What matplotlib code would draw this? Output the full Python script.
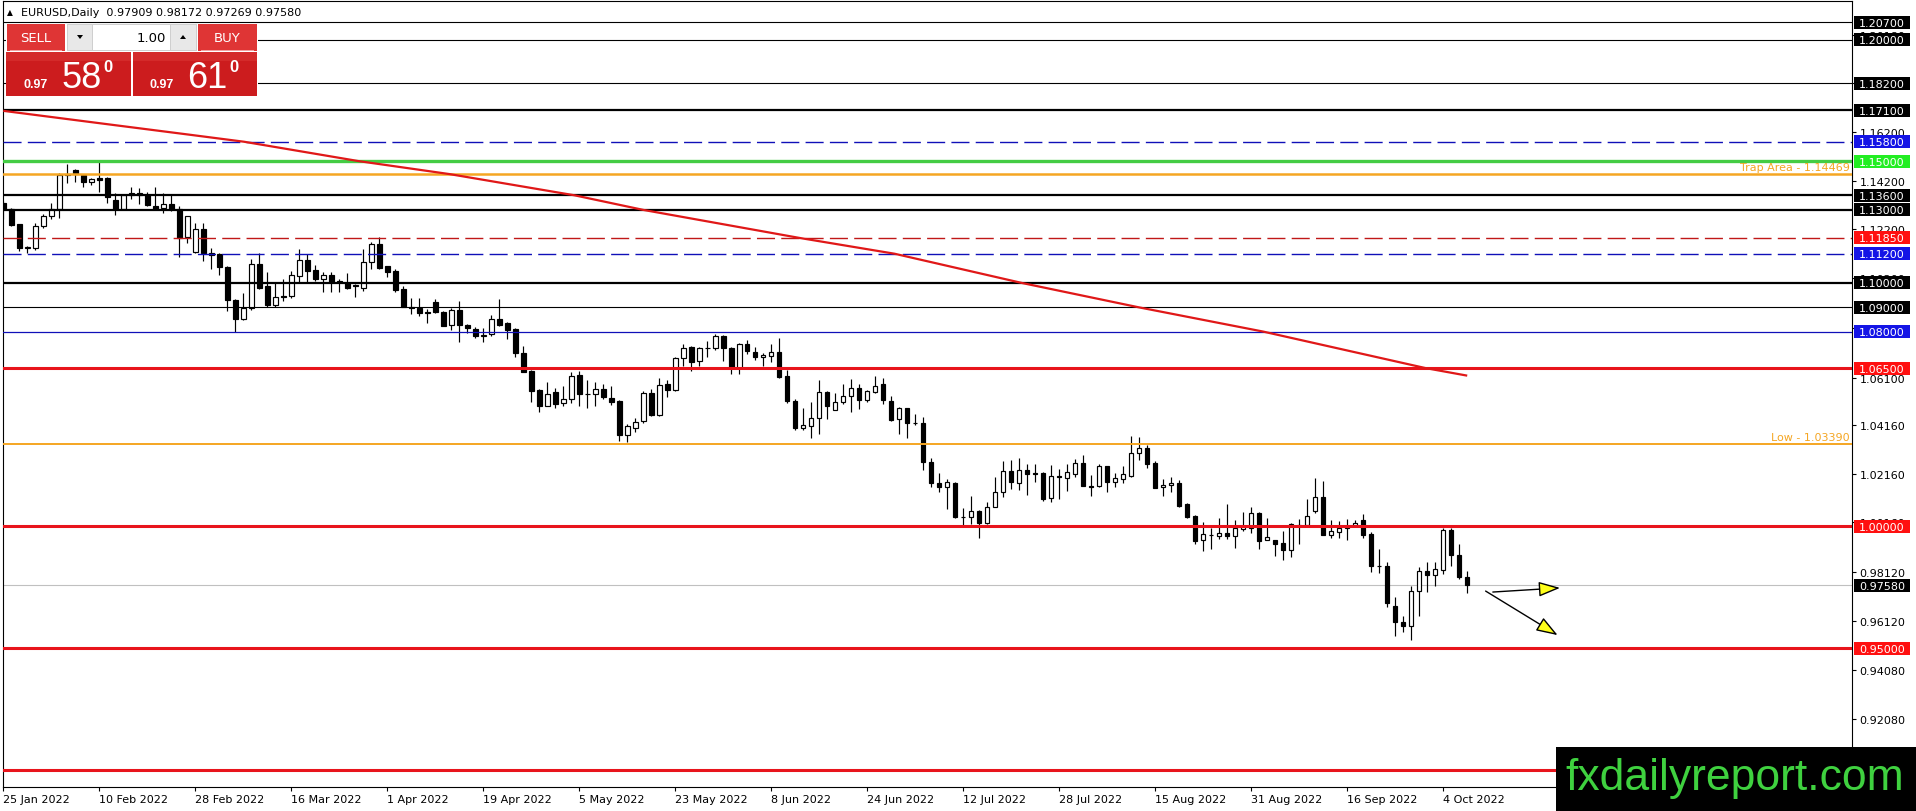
import matplotlib
matplotlib.use('Agg')
import matplotlib.pyplot as plt
from matplotlib.patches import Rectangle, FancyArrowPatch, Polygon, ArrowStyle
import numpy as np
import pandas as pd

plt.rcParams['font.family'] = ['DejaVu Sans']
plt.rcParams['lines.scale_dashes'] = False

W, H = 1916, 812

# ---------------- data ----------------
opens = [1.1330, 1.1305, 1.1241, 1.1145, 1.1145, 1.1234, 1.1273, 1.1303, 1.1442, 1.1462,
         1.1442, 1.1415, 1.1429, 1.1429, 1.1340, 1.1305, 1.1362, 1.1371, 1.1360, 1.1318,
         1.1308, 1.1326, 1.1305, 1.1190, 1.1125, 1.1221, 1.1123, 1.1118, 1.1067, 1.0929,
         1.0853, 1.0895, 1.1077, 1.0988, 1.0909, 1.0948, 1.0947, 1.1029, 1.1094, 1.1053,
         1.1018, 1.1032, 1.1009, 1.0998, 1.0990, 1.0981, 1.1084, 1.1159, 1.1068, 1.1047,
         1.0974, 1.0903, 1.0898, 1.0879, 1.0920, 1.0881, 1.0826, 1.0888, 1.0829, 1.0810,
         1.0780, 1.0789, 1.0852, 1.0835, 1.0811, 1.0712, 1.0639, 1.0561, 1.0496, 1.0550,
         1.0505, 1.0523, 1.0622, 1.0545, 1.0542, 1.0563, 1.0527, 1.0515, 1.0375, 1.0403,
         1.0434, 1.0546, 1.0457, 1.0583, 1.0560, 1.0690, 1.0735, 1.0680, 1.0731, 1.0734,
         1.0780, 1.0731, 1.0650, 1.0749, 1.0717, 1.0694, 1.0701, 1.0715, 1.0619, 1.0516,
         1.0405, 1.0413, 1.0443, 1.0553, 1.0476, 1.0509, 1.0534, 1.0567, 1.0520, 1.0553,
         1.0583, 1.0516, 1.0439, 1.0486, 1.0426, 1.0424, 1.0263, 1.0180, 1.0160, 1.0178,
         1.0037, 1.0037, 1.0061, 1.0013, 1.0081, 1.0139, 1.0226, 1.0176, 1.0231, 1.0219,
         1.0219, 1.0115, 1.0207, 1.0197, 1.0214, 1.0260, 1.0164, 1.0164, 1.0246, 1.0181,
         1.0194, 1.0208, 1.0300, 1.0320, 1.0260, 1.0160, 1.0170, 1.0178, 1.0091, 1.0044,
         0.9942, 0.9966, 0.9962, 0.9973, 0.9962, 0.9991, 0.9992, 1.0055, 0.9942, 0.9942,
         0.9931, 0.9904, 1.0003, 1.0005, 1.0064, 1.0119, 0.9966, 0.9978, 0.9993, 1.0003,
         1.0026, 0.9967, 0.9835, 0.9835, 0.9674, 0.9605, 0.9592, 0.9733, 0.9815, 0.9800,
         0.9822, 0.9985, 0.9883, 0.97909]
highs = [1.1337, 1.1309, 1.1244, 1.1152, 1.1248, 1.1282, 1.1330, 1.1453, 1.1488, 1.1467,
         1.1447, 1.1431, 1.1497, 1.1434, 1.1371, 1.1364, 1.1396, 1.1388, 1.1374, 1.1393,
         1.1368, 1.1360, 1.1314, 1.1275, 1.1248, 1.1248, 1.1145, 1.1122, 1.1070, 1.0933,
         1.0957, 1.1098, 1.1121, 1.1046, 1.0999, 1.1018, 1.1050, 1.1139, 1.1118, 1.1073,
         1.1046, 1.1043, 1.1016, 1.1040, 1.0995, 1.1139, 1.1170, 1.1187, 1.1070, 1.1057,
         1.0988, 1.0936, 1.0940, 1.0892, 1.0933, 1.0885, 1.0895, 1.0926, 1.0831, 1.0817,
         1.0813, 1.0868, 1.0934, 1.0838, 1.0813, 1.0742, 1.0643, 1.0564, 1.0592, 1.0567,
         1.0578, 1.0635, 1.0640, 1.0602, 1.0592, 1.0585, 1.0578, 1.0517, 1.0420, 1.0446,
         1.0557, 1.0564, 1.0608, 1.0601, 1.0694, 1.0749, 1.0739, 1.0735, 1.0763, 1.0790,
         1.0787, 1.0737, 1.0755, 1.0764, 1.0735, 1.0712, 1.0748, 1.0774, 1.0643, 1.0523,
         1.0485, 1.0512, 1.0601, 1.0557, 1.0547, 1.0585, 1.0605, 1.0585, 1.0561, 1.0616,
         1.0608, 1.0534, 1.0491, 1.0486, 1.0461, 1.0448, 1.0279, 1.0221, 1.0194, 1.0183,
         1.0074, 1.0123, 1.0065, 1.0098, 1.0201, 1.0268, 1.0272, 1.0279, 1.0256, 1.0258,
         1.0224, 1.0252, 1.0235, 1.0256, 1.0276, 1.0293, 1.0211, 1.0256, 1.0249, 1.0219,
         1.0249, 1.0372, 1.0365, 1.0334, 1.0270, 1.0194, 1.0201, 1.0192, 1.0094, 1.0046,
         1.0016, 0.9992, 1.0033, 1.0092, 1.0027, 1.0057, 1.0078, 1.0060, 1.0033, 0.9942,
         0.9982, 1.0012, 1.0030, 1.0112, 1.0197, 1.0186, 1.0026, 1.0022, 1.0030, 1.0027,
         1.0051, 0.9975, 0.9907, 0.9852, 0.9708, 0.9633, 0.9753, 0.9831, 0.9852, 0.9852,
         0.9992, 0.9992, 0.9927, 0.98172]
lows = [1.1262, 1.1232, 1.1131, 1.1122, 1.1136, 1.1225, 1.1262, 1.1266, 1.1412, 1.1415,
        1.1396, 1.1401, 1.1374, 1.1330, 1.1279, 1.1302, 1.1344, 1.1323, 1.1314, 1.1305,
        1.1289, 1.1296, 1.1108, 1.1163, 1.1121, 1.1090, 1.1059, 1.1031, 1.0885, 1.0799,
        1.0848, 1.0889, 1.0977, 1.0899, 1.0899, 1.0926, 1.0936, 1.1002, 1.1002, 1.1009,
        1.0961, 1.0963, 1.0963, 1.0977, 1.0944, 1.0967, 1.1059, 1.1057, 1.1026, 1.0961,
        1.0899, 1.0872, 1.0865, 1.0835, 1.0878, 1.0821, 1.0807, 1.0758, 1.0796, 1.0772,
        1.0758, 1.0783, 1.0824, 1.0770, 1.0697, 1.0633, 1.0512, 1.0471, 1.0493, 1.0487,
        1.0496, 1.0507, 1.0493, 1.0485, 1.0496, 1.0523, 1.0498, 1.0352, 1.0348, 1.0389,
        1.0424, 1.0454, 1.0454, 1.0530, 1.0557, 1.0660, 1.0638, 1.0660, 1.0697, 1.0726,
        1.0681, 1.0626, 1.0627, 1.0706, 1.0685, 1.0657, 1.0674, 1.0608, 1.0506, 1.0397,
        1.0397, 1.0361, 1.0379, 1.0441, 1.0476, 1.0502, 1.0468, 1.0482, 1.0509, 1.0547,
        1.0502, 1.0432, 1.0379, 1.0364, 1.0416, 1.0233, 1.0160, 1.0142, 1.0071, 1.0033,
        1.0005, 1.0009, 0.9950, 1.0009, 1.0081, 1.0119, 1.0153, 1.0150, 1.0130, 1.0181,
        1.0105, 1.0098, 1.0112, 1.0146, 1.0204, 1.0164, 1.0123, 1.0160, 1.0139, 1.0160,
        1.0178, 1.0201, 1.0274, 1.0238, 1.0156, 1.0123, 1.0142, 1.0078, 1.0033, 0.9927,
        0.9900, 0.9907, 0.9948, 0.9948, 0.9912, 0.9982, 0.9972, 0.9907, 0.9942, 0.9876,
        0.9863, 0.9872, 0.9926, 1.0005, 1.0055, 0.9966, 0.9953, 0.9953, 0.9944, 0.9997,
        0.9951, 0.9813, 0.9808, 0.9667, 0.9550, 0.9567, 0.9534, 0.9633, 0.9731, 0.9755,
        0.9804, 0.9835, 0.9783, 0.97269]
closes = [1.1303, 1.1237, 1.1145, 1.1146, 1.1234, 1.1273, 1.1303, 1.1442, 1.1446, 1.1447,
          1.1415, 1.1426, 1.1423, 1.1351, 1.1303, 1.1360, 1.1371, 1.1360, 1.1321, 1.1305,
          1.1326, 1.1305, 1.1186, 1.1273, 1.1221, 1.1122, 1.1115, 1.1067, 1.0930, 1.0853,
          1.0895, 1.1077, 1.0981, 1.0909, 1.0944, 1.0943, 1.1032, 1.1094, 1.1050, 1.1016,
          1.1032, 1.1002, 1.1002, 1.0980, 1.0987, 1.1084, 1.1159, 1.1063, 1.1046, 1.0972,
          1.0899, 1.0895, 1.0878, 1.0878, 1.0881, 1.0824, 1.0889, 1.0828, 1.0813, 1.0780,
          1.0788, 1.0852, 1.0827, 1.0808, 1.0711, 1.0635, 1.0557, 1.0496, 1.0542, 1.0502,
          1.0523, 1.0619, 1.0542, 1.0543, 1.0563, 1.0530, 1.0512, 1.0375, 1.0411, 1.0430,
          1.0546, 1.0457, 1.0582, 1.0560, 1.0690, 1.0734, 1.0676, 1.0731, 1.0734, 1.0780,
          1.0731, 1.0653, 1.0748, 1.0719, 1.0694, 1.0704, 1.0715, 1.0612, 1.0516, 1.0402,
          1.0415, 1.0443, 1.0550, 1.0493, 1.0509, 1.0534, 1.0567, 1.0520, 1.0554, 1.0578,
          1.0520, 1.0438, 1.0486, 1.0426, 1.0424, 1.0263, 1.0180, 1.0160, 1.0184, 1.0037,
          1.0040, 1.0061, 1.0013, 1.0078, 1.0139, 1.0226, 1.0181, 1.0231, 1.0215, 1.0215,
          1.0112, 1.0205, 1.0201, 1.0222, 1.0260, 1.0164, 1.0163, 1.0246, 1.0183, 1.0197,
          1.0213, 1.0300, 1.0320, 1.0256, 1.0157, 1.0169, 1.0178, 1.0085, 1.0037, 0.9941,
          0.9967, 0.9964, 0.9973, 0.9962, 0.9992, 1.0000, 1.0055, 0.9941, 0.9955, 0.9929,
          0.9904, 1.0009, 1.0005, 1.0041, 1.0119, 0.9966, 0.9981, 0.9993, 1.0003, 1.0014,
          0.9964, 0.9835, 0.9835, 0.9687, 0.9605, 0.9592, 0.9735, 0.9815, 0.9801, 0.9824,
          0.9985, 0.9883, 0.9790, 0.97580]

# bar dates (daily bars, weekdays) and date axis labels
bar_dates = pd.bdate_range('2022-01-25', periods=len(opens))
date_labels = ['25 Jan 2022', '10 Feb 2022', '28 Feb 2022', '16 Mar 2022', '1 Apr 2022',
               '19 Apr 2022', '5 May 2022', '23 May 2022', '8 Jun 2022', '24 Jun 2022',
               '12 Jul 2022', '28 Jul 2022', '15 Aug 2022', '31 Aug 2022', '16 Sep 2022',
               '4 Oct 2022']

# moving-average curve (bar index, price)
ma_bar = [0, 11.6, 23.5, 30.1, 44.5, 55.8, 71.4, 80.0, 99.5, 111.4, 127.3, 141.9, 157.5, 177.8, 183]
ma_val = [1.1707, 1.1658, 1.1608, 1.1580, 1.1500, 1.1447, 1.1360, 1.1300, 1.1185, 1.1120,
          1.1000, 1.0900, 1.0800, 1.0650, 1.0619]

# horizontal levels
level_prices = [1.2070, 1.2000, 1.1820, 1.1710, 1.1580, 1.1500, 1.1360, 1.1300, 1.1185,
                1.1120, 1.1000, 1.0900, 1.0800, 1.0650, 1.0000, 0.9500, 0.9000]
level_kind = ['black', 'black', 'black', 'blackbold', 'bluedash', 'green', 'blackbold',
              'blackbold', 'reddash', 'bluedash', 'blackbold', 'black', 'blue', 'red',
              'red', 'red', 'red']
level_labels = ['1.20700', '1.20000', '1.18200', '1.17100', '1.15800', '1.15000', '1.13600',
                '1.13000', '1.11850', '1.11200', '1.10000', '1.09000', '1.08000', '1.06500',
                '1.00000', '0.95000', '0.90000']
trap_price = 1.14469
low_price = 1.03390
current_price = 0.97580

axis_ticks = [1.2018, 1.1820, 1.1620, 1.1420, 1.1220, 1.1020, 1.0816, 1.0610, 1.0416,
              1.0216, 1.0016, 0.9812, 0.9612, 0.9408, 0.9208]

# projection arrows (bar index, price)
arrow_start = [(186.2, 0.9730), (185.3, 0.9734)]
arrow_end = [(194.6, 0.9747), (194.3, 0.9553)]

# ---------------- figure ----------------
fig = plt.figure(figsize=(W / 100, H / 100), dpi=100)
AX_L, AX_R, AX_T, AX_B = 2.5, 1852.0, 2.3, 788.0
ax = fig.add_axes([AX_L / W, (H - AX_B) / H, (AX_R - AX_L) / W, (AX_B - AX_T) / H])
ymin, ymax = 0.8929, 1.2157
ax.set_xlim(-0.1, 231.1)
ax.set_ylim(ymin, ymax)


def ypix(p):
    return AX_T + (ymax - p) / (ymax - ymin) * (AX_B - AX_T)


def fx(x):
    return x / W


def fy(y):
    return 1 - y / H


o = np.array(opens)
h = np.array(highs)
l = np.array(lows)
c = np.array(closes)
x = np.arange(len(o))
up = c >= o

ax.vlines(x, l, h, color='black', lw=0.85, zorder=2)
ax.bar(x[up], np.maximum((c - o)[up], 0.00004), bottom=o[up], width=0.56,
       facecolor='white', edgecolor='black', linewidth=0.85, zorder=3)
ax.bar(x[~up], np.maximum((o - c)[~up], 0.00004), bottom=c[~up], width=0.56,
       facecolor='black', edgecolor='black', linewidth=0.85, zorder=3)

styles = {
    'black': dict(color='black', lw=0.8, ls='-'),
    'blackbold': dict(color='black', lw=1.6, ls='-'),
    'bluedash': dict(color='#1010B8', lw=1.0, ls=(0, (13, 4.5))),
    'blue': dict(color='#1010B8', lw=0.9, ls='-'),
    'green': dict(color='#44CC44', lw=2.4, ls='-'),
    'reddash': dict(color='#C01818', lw=1.0, ls=(0, (13, 4.5))),
    'red': dict(color='#E8141C', lw=2.2, ls='-'),
}
box_colors = {'black': 'black', 'blackbold': 'black', 'bluedash': '#1414E6',
              'blue': '#1414E6', 'green': '#22EE22', 'reddash': '#FF1010', 'red': '#FF1010'}

for p, k in zip(level_prices, level_kind):
    s = styles[k]
    ax.axhline(p, color=s['color'], lw=s['lw'], ls=s['ls'], zorder=4)

ax.axhline(trap_price, color='#F5A623', lw=1.8, zorder=4)
ax.axhline(low_price, color='#F5A623', lw=1.4, zorder=4)
ax.axhline(current_price, color='#C0C0C0', lw=0.8, zorder=1)

ax.text(230.8, trap_price + 0.0009, 'Trap Area - 1.14469', color='#F5A623', fontsize=8,
        ha='right', va='bottom', zorder=5)
ax.text(230.8, low_price + 0.0009, 'Low - 1.03390', color='#F5A623', fontsize=8,
        ha='right', va='bottom', zorder=5)

ax.plot(ma_bar, ma_val, color='#E01818', lw=1.6, zorder=5, solid_capstyle='butt',
        solid_joinstyle='round')

for (x0, y0), (x1, y1) in zip(arrow_start, arrow_end):
    arr = FancyArrowPatch((x0, y0), (x1, y1),
                          arrowstyle=ArrowStyle('-|>', head_length=1.2, head_width=0.42),
                          mutation_scale=11, facecolor='#FFFF1A', edgecolor='black',
                          lw=1.0, shrinkA=0, shrinkB=0, zorder=6)
    ax.add_patch(arr)

# axes styling
for sp in ax.spines.values():
    sp.set_color('black')
    sp.set_linewidth(0.8)
ax.yaxis.tick_right()
ax.set_yticks(axis_ticks)
ax.set_yticklabels([f'{t:.5f}' for t in axis_ticks])
ax.tick_params(axis='y', direction='out', length=3, width=0.8, pad=2.5, labelsize=8,
               colors='black')
tick_pos = [int(np.where(bar_dates == pd.Timestamp(lbl))[0][0]) for lbl in date_labels]
ax.set_xticks(tick_pos)
ax.set_xticklabels(date_labels)
ax.tick_params(axis='x', direction='out', length=3, width=0.8, pad=2, labelsize=8,
               colors='black')
for lab in ax.get_xticklabels():
    lab.set_ha('left')

# ---------------- price labels on the right ----------------
for p, k, lbl in zip(level_prices, level_kind, level_labels):
    if p < 0.92:
        continue
    yc = ypix(p)
    fig.add_artist(Rectangle((fx(1854), fy(yc + 6.5)), 56 / W, 13 / H, transform=fig.transFigure,
                             facecolor=box_colors[k], edgecolor='none', zorder=10))
    fig.text(fx(1859), fy(yc + 0.5), lbl, color='white', fontsize=8, va='center', ha='left',
             zorder=11)
yc = ypix(current_price)
fig.add_artist(Rectangle((fx(1854), fy(yc + 6.5)), 56 / W, 13 / H, transform=fig.transFigure,
                         facecolor='black', edgecolor='none', zorder=10))
fig.text(fx(1859), fy(yc + 0.5), '0.97580', color='white', fontsize=8, va='center', ha='left',
         zorder=11)

# ---------------- header ----------------
fig.text(fx(7), fy(13), '\u25b2', fontsize=5.5, va='center', ha='left', color='black')
fig.text(fx(21), fy(13), 'EURUSD,Daily  0.97909 0.98172 0.97269 0.97580', fontsize=8,
         va='center', ha='left', color='black')


# ---------------- trade panel ----------------
def rect(x0, y0, x1, y1, fc, z=12):
    fig.add_artist(Rectangle((fx(x0), fy(y1)), (x1 - x0) / W, (y1 - y0) / H,
                             transform=fig.transFigure, facecolor=fc, edgecolor='none', zorder=z))


rect(6, 25, 258, 98, 'white', 11)
rect(7, 25, 65, 52, '#DF3535')
rect(198, 25, 257, 52, '#DF3535')
rect(67, 25, 197, 52, '#CFCFCF')
rect(68, 26, 92, 51, '#E8E8E8')
rect(93, 26, 170, 51, 'white')
rect(171, 26, 196, 51, '#E8E8E8')
rect(10, 51, 62, 52, '#F2A0A0', 13)
rect(201, 51, 254, 52, '#F2A0A0', 13)
rect(6, 53, 131, 97, '#CC1C1E')
rect(133, 53, 257, 97, '#CC1C1E')
rect(6, 53, 131, 62, '#D42A2A', 12.5)
rect(133, 53, 257, 62, '#D42A2A', 12.5)

fig.add_artist(Polygon([(fx(77), fy(36)), (fx(83), fy(36)), (fx(80), fy(40))], closed=True,
                       transform=fig.transFigure, facecolor='black', edgecolor='none', zorder=13))
fig.add_artist(Polygon([(fx(180), fy(40)), (fx(186), fy(40)), (fx(183), fy(36))], closed=True,
                       transform=fig.transFigure, facecolor='black', edgecolor='none', zorder=13))

fig.text(fx(36), fy(39), 'SELL', color='white', fontsize=9.5, ha='center', va='center', zorder=14)
fig.text(fx(227.5), fy(39), 'BUY', color='white', fontsize=9.5, ha='center', va='center', zorder=14)
fig.text(fx(166), fy(38), '1.00', color='black', fontsize=9.5, ha='right', va='center', zorder=14)

for xs, big in [(24, '58'), (150, '61')]:
    fig.text(fx(xs), fy(88), '0.97', color='white', fontsize=9, fontweight='bold',
             ha='left', va='baseline', zorder=14, family='Liberation Sans')
    fig.text(fx(xs + 37), fy(88), big, color='white', fontsize=26,
             ha='left', va='baseline', zorder=14, family='Liberation Sans')
    fig.text(fx(xs + 79), fy(72), '0', color='white', fontsize=12, fontweight='bold',
             ha='left', va='baseline', zorder=14, family='Liberation Sans')

# ---------------- watermark ----------------
rect(1556, 748, 1916, 812, 'black', 15)
fig.text(fx(1565), fy(779), 'fxdailyreport.com', color='#3FD13F', fontsize=32,
         family='Liberation Sans', ha='left', va='center', zorder=16)

fig.savefig('out.png', dpi=100)
